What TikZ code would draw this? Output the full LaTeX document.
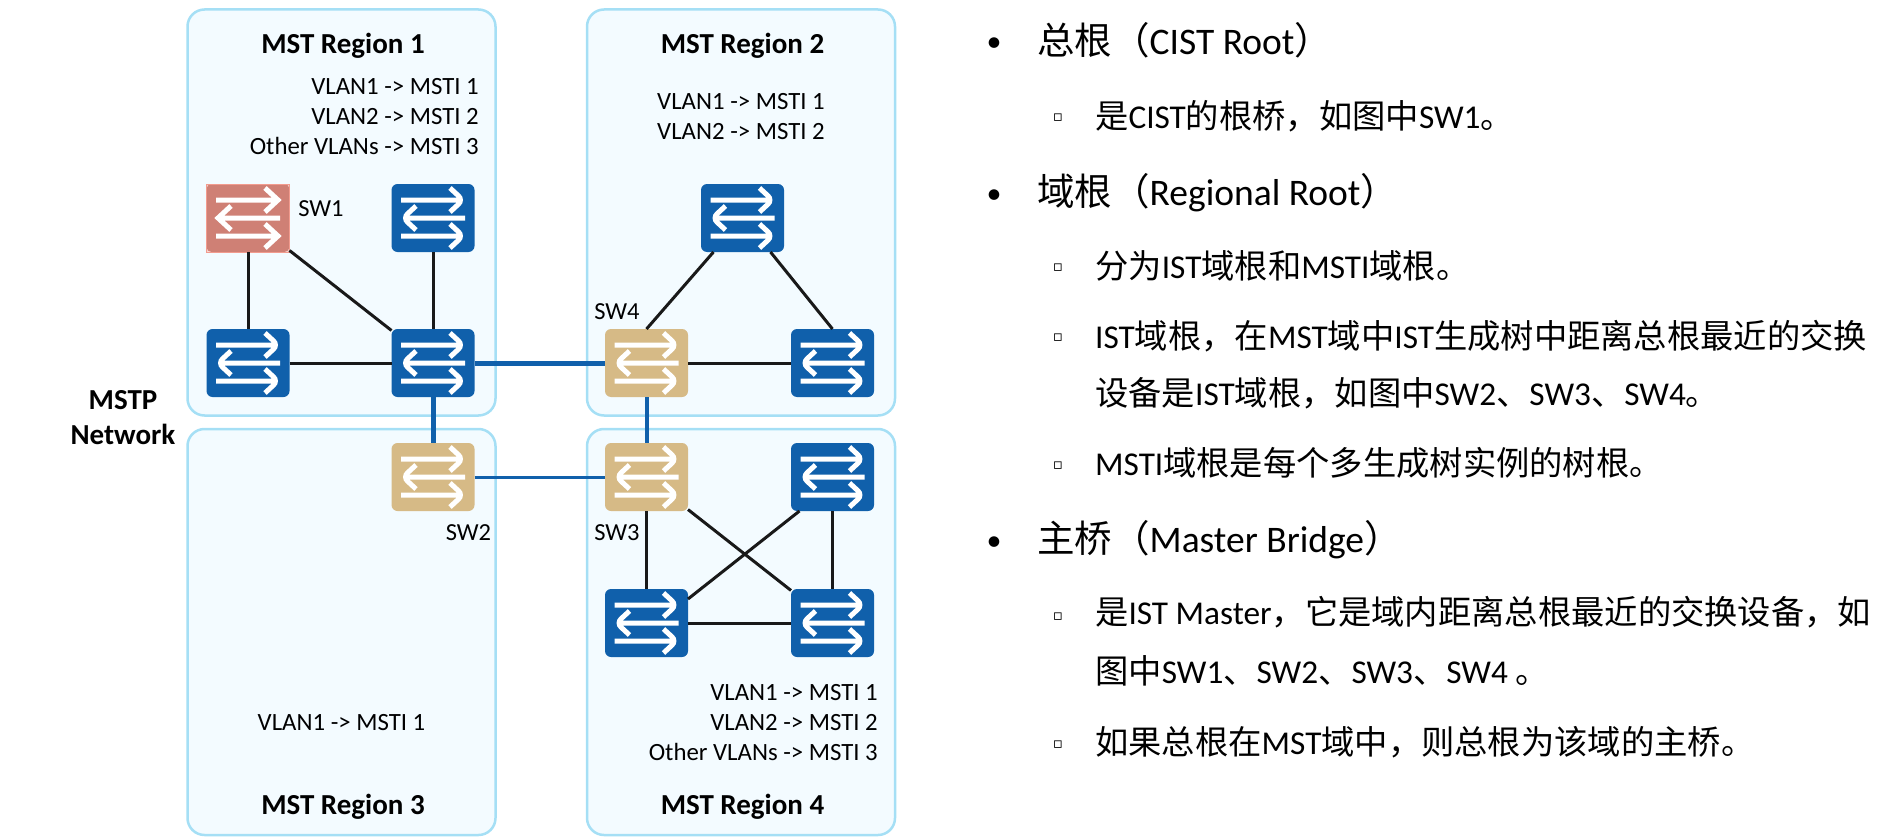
\documentclass[tikz,border=0pt]{standalone}
\usepackage{fontspec}
\setmainfont{Carlito}
\newfontfamily\cjk{Noto Sans CJK SC}
\newfontfamily\sym{DejaVu Sans}
\usepackage{tikz}
\definecolor{swblue}{HTML}{1060AB}
\definecolor{swtan}{HTML}{D6BA86}
\definecolor{swred}{HTML}{CF8075}
\definecolor{swpink}{HTML}{F29B8E}
\definecolor{regfill}{HTML}{F3FBFF}
\definecolor{regline}{HTML}{A5DFF5}
\newcommand{\zh}[1]{{\cjk #1}}
\newcommand{\swarrows}{%
    \draw[white,line width=5pt,shift={(path picture bounding box.center)}]
        (-32,-18) -- (29,-18) (17,-30) -- (30,-18) -- (17,-6)
        (32,0) -- (-29,0) (-17,-12) -- (-30,0) -- (-17,12)
        (-32,18) -- (29,18) (17,6) -- (30,18) -- (17,30);
}
\tikzset{%
    sw/.style={rectangle,rounded corners=6pt,minimum width=83pt,minimum height=68pt,
        inner sep=0pt,outer sep=0pt,fill=swblue,path picture={\swarrows}},
    swroot/.style={sw,rounded corners=0pt,fill=swpink!40!white,draw=swpink,line width=1pt,
        path picture={\fill[swred,rounded corners=5pt] (path picture bounding box.south west)
            rectangle (path picture bounding box.north east); \swarrows}}
}

\begin{document}
\begin{tikzpicture}[
        x=1pt,y=-1pt,
        region/.style={draw=regline,fill=regfill,line width=2.5pt,rounded corners=17pt,
            minimum width=308pt,minimum height=406pt,inner sep=0pt},
        edge/.style={line width=3pt,draw=black!90},
        link/.style={line width=5pt,draw=swblue},
        title/.style={font=\bfseries\fontsize{29}{29}\selectfont,inner sep=0pt},
        map/.style={font=\fontsize{24.8}{30}\selectfont,inner sep=0pt,align=right},
        tag/.style={font=\fontsize{24.5}{24}\selectfont,inner sep=0pt},
        lone/.style={font=\fontsize{37.5}{37}\selectfont,inner sep=0pt,anchor=base west},
        ltwo/.style={font=\fontsize{33.3}{33}\selectfont,inner sep=0pt,anchor=base west},
        dotone/.style={font=\fontsize{30}{30}\selectfont,inner sep=0pt,anchor=base},
        dottwo/.style={font=\sym\fontsize{15}{15}\selectfont,inner sep=0pt,anchor=base}
        ]
        \useasboundingbox (0,0) rectangle (1901,840);

        \node[region] (r1) at (341.5,212.5){};
        \node[region] (r2) at (741,212.5){};
        \node[region] (r3) at (341.5,632){};
        \node[region] (r4) at (741,632){};

        \node[swroot] (1a) at (248,218){};
        \node[sw] (1b) at (433,218){};
        \node[sw] (1c) at (248,363){};
        \node[sw] (1d) at (433,363){};

        \node[sw] (2a) at (742.5,218){};
        \node[sw, fill=swtan] (2b) at (646.5,363){};
        \node[sw] (2c) at (832.5,363){};

        \node[sw, fill=swtan] (3a) at (433,477){};

        \node[sw, fill=swtan] (4a) at (646.5,477){};
        \node[sw] (4b) at (832.5,477){};
        \node[sw] (4c) at (646.5,623){};
        \node[sw] (4d) at (832.5,623){};

        \draw[edge] (1a) -- (1c);
        \draw[edge] (1a) -- (1d);
        \draw[edge] (1b) -- (1d);
        \draw[edge] (1c) -- (1d);
        \draw[edge] (2b.north) -- ([xshift=-29pt]2a.south);
        \draw[edge] (2c.north) -- ([xshift=28pt]2a.south);
        \draw[edge] (2b) -- (2c);
        \draw[edge] (4a) -- (4c);
        \draw[edge] (4a) -- (4d);
        \draw[edge] (4b) -- (4d);
        \draw[edge] (4c) -- (4d);
        \draw[edge] ([xshift=8.5pt]4b.south west) -- ([yshift=24pt]4c.east);
        \draw[link] (1d) -- (2b);
        \draw[link] (1d) -- (3a);
        \draw[link, line width=4pt] (2b) -- (4a);
        \draw[link, line width=3pt] (3a) -- (4a);

        \node[title] (t1) at (343,45.5){MST Region 1};
        \node[title] (t2) at (742.5,45.5){MST Region 2};
        \node[title] (t3) at (343,806.5){MST Region 3};
        \node[title] (t4) at (742.5,806.5){MST Region 4};
        \node[title, align=center, font=\bfseries\fontsize{29}{35}\selectfont] (net) at (123,418){MSTP\\Network};

        \node[map, anchor=east] (m1) at (479,117){VLAN1 -> MSTI 1\\VLAN2 -> MSTI 2\\Other VLANs -> MSTI 3};
        \node[map] (m2) at (741,117){VLAN1 -> MSTI 1\\VLAN2 -> MSTI 2};
        \node[map] (m3) at (341.5,723){VLAN1 -> MSTI 1};
        \node[map, anchor=east] (m4) at (878,723){VLAN1 -> MSTI 1\\VLAN2 -> MSTI 2\\Other VLANs -> MSTI 3};

        \node[tag] (s1) at (321,209){SW1};
        \node[tag] (s2) at (468.5,533){SW2};
        \node[tag] (s3) at (617,533){SW3};
        \node[tag] (s4) at (617,312){SW4};

        \node[dotone] (d1) at (994,52){•};
        \node[lone] (l1) at (1037,55){\zh{总根（}CIST Root\zh{）}};
        \node[dottwo] (d2) at (1058,121.5){▫};
        \node[ltwo] (l2) at (1095,129){\zh{是}CIST\zh{的根桥，如图中}SW1\zh{。}};
        \node[dotone] (d3) at (994,203){•};
        \node[lone] (l3) at (1037,205){\zh{域根（}Regional Root\zh{）}};
        \node[dottwo] (d4) at (1058,271.5){▫};
        \node[ltwo] (l4) at (1095,278){\zh{分为}IST\zh{域根和}MSTI\zh{域根。}};
        \node[dottwo] (d5) at (1058,341.5){▫};
        \node[ltwo] (l5) at (1095,348){IST\zh{域根，在}MST\zh{域中}IST\zh{生成树中距离总根最近的交换}};
        \node[ltwo] (l6) at (1095,405){\zh{设备是}IST\zh{域根，如图中}SW2\zh{、}SW3\zh{、}SW4\zh{。}};
        \node[dottwo] (d6) at (1058,469){▫};
        \node[ltwo] (l7) at (1095,475){MSTI\zh{域根是每个多生成树实例的树根。}};
        \node[dotone] (d7) at (994,550){•};
        \node[lone] (l8) at (1037,552){\zh{主桥（}Master Bridge\zh{）}};
        \node[dottwo] (d8) at (1058,620){▫};
        \node[ltwo] (l9) at (1095,624){\zh{是}IST Master\zh{，它是域内距离总根最近的交换设备，如}};
        \node[ltwo] (l10) at (1095,683){\zh{图中}SW1\zh{、}SW2\zh{、}SW3\zh{、}SW4 \zh{。}};
        \node[dottwo] (d9) at (1058,748){▫};
        \node[ltwo] (l11) at (1095,754){\zh{如果总根在}MST\zh{域中，则总根为该域的主桥。}};
    \end{tikzpicture}
\end{document}
